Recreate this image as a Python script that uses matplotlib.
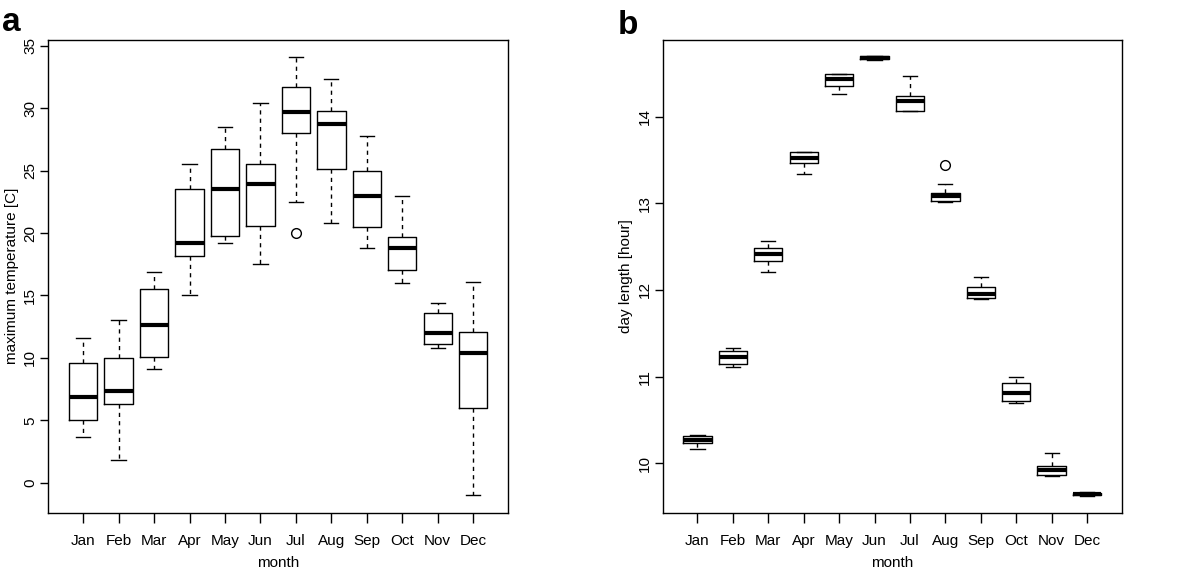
import numpy as np
import matplotlib
matplotlib.use('Agg')
import matplotlib.pyplot as plt

plt.rcParams['font.family'] = ['Liberation Sans', 'DejaVu Sans']

months = ['Jan', 'Feb', 'Mar', 'Apr', 'May', 'Jun',
          'Jul', 'Aug', 'Sep', 'Oct', 'Nov', 'Dec']

# panel a: maximum temperature [C]
tmax_lo = [3.7, 1.8, 9.1, 15.0, 19.2, 17.5, 22.5, 20.8, 18.8, 16.0, 10.8, -1.0]
tmax_q1 = [5.0, 6.3, 10.1, 18.2, 19.8, 20.6, 28.0, 25.1, 20.5, 17.0, 11.1, 6.0]
tmax_med = [6.85, 7.35, 12.6, 19.2, 23.5, 23.9, 29.7, 28.7, 23.0, 18.8, 12.0, 10.4]
tmax_q3 = [9.6, 10.0, 15.5, 23.5, 26.7, 25.5, 31.7, 29.8, 25.0, 19.7, 13.6, 12.1]
tmax_hi = [11.6, 13.0, 16.9, 25.5, 28.5, 30.4, 34.1, 32.3, 27.8, 23.0, 14.4, 16.1]
tmax_out = [[], [], [], [], [], [], [20.0], [], [], [], [], []]

# panel b: day length [hour]
day_lo = [10.165, 11.11, 12.21, 13.34, 14.26, 14.65, 14.06, 13.01, 11.895, 10.70, 9.85, 9.62]
day_q1 = [10.23, 11.14, 12.34, 13.47, 14.35, 14.665, 14.07, 13.03, 11.91, 10.715, 9.865, 9.63]
day_med = [10.27, 11.23, 12.42, 13.52, 14.44, 14.68, 14.18, 13.08, 11.95, 10.81, 9.92, 9.643]
day_q3 = [10.32, 11.30, 12.49, 13.59, 14.49, 14.70, 14.24, 13.12, 12.04, 10.93, 9.97, 9.654]
day_hi = [10.33, 11.33, 12.56, 13.59, 14.49, 14.70, 14.47, 13.225, 12.15, 10.995, 10.115, 9.665]
day_out = [[], [], [], [], [], [], [], [13.44], [], [], [], []]


def make_stats(lo, q1, med, q3, hi, out):
    stats = []
    for i in range(len(lo)):
        stats.append(dict(whislo=lo[i], q1=q1[i], med=med[i], q3=q3[i],
                          whishi=hi[i], fliers=out[i]))
    return stats


def rbox(ax, stats, ylabel, yticks):
    pos = np.arange(1, len(stats) + 1)
    ax.bxp(stats, positions=pos, widths=0.8, capwidths=0.4,
           boxprops=dict(color='black', linewidth=1.0),
           whiskerprops=dict(color='black', linewidth=1.0, linestyle=(0, (3, 3))),
           capprops=dict(color='black', linewidth=1.0),
           medianprops=dict(color='black', linewidth=3.0, solid_capstyle='butt'),
           flierprops=dict(marker='o', markersize=7, markerfacecolor='none',
                           markeredgecolor='black', markeredgewidth=1.0))
    ax.set_xlim(0.02, 12.98)
    ax.set_xticks(pos)
    ax.set_xticklabels(months)
    ax.set_yticks(yticks)
    ax.set_yticklabels([str(t) for t in yticks], rotation=90, va='center')
    ax.tick_params(axis='x', direction='out', length=7, width=1, labelsize=11, pad=8)
    ax.tick_params(axis='y', direction='out', length=6, width=1, labelsize=11, pad=2)
    ax.set_xlabel('month', fontsize=11, labelpad=6)
    ax.set_ylabel(ylabel, fontsize=11, labelpad=3)
    for s in ax.spines.values():
        s.set_linewidth(1.0)


fig = plt.figure(figsize=(12, 5.68), dpi=100)
ax1 = fig.add_axes([0.0403, 0.0974, 0.383, 0.833])
ax2 = fig.add_axes([0.5523, 0.0974, 0.3825, 0.833])

rbox(ax1, make_stats(tmax_lo, tmax_q1, tmax_med, tmax_q3, tmax_hi, tmax_out),
     'maximum temperature [C]', [0, 5, 10, 15, 20, 25, 30, 35])
ax1.set_ylim(-2.4, 35.5)

rbox(ax2, make_stats(day_lo, day_q1, day_med, day_q3, day_hi, day_out),
     'day length [hour]', [10, 11, 12, 13, 14])
ax2.set_ylim(9.43, 14.89)

fig.text(0.002, 0.96, 'a', fontsize=24, fontweight='bold', va='center', ha='left')
fig.text(0.515, 0.955, 'b', fontsize=24, fontweight='bold', va='center', ha='left')

fig.savefig('out.png', dpi=100)
